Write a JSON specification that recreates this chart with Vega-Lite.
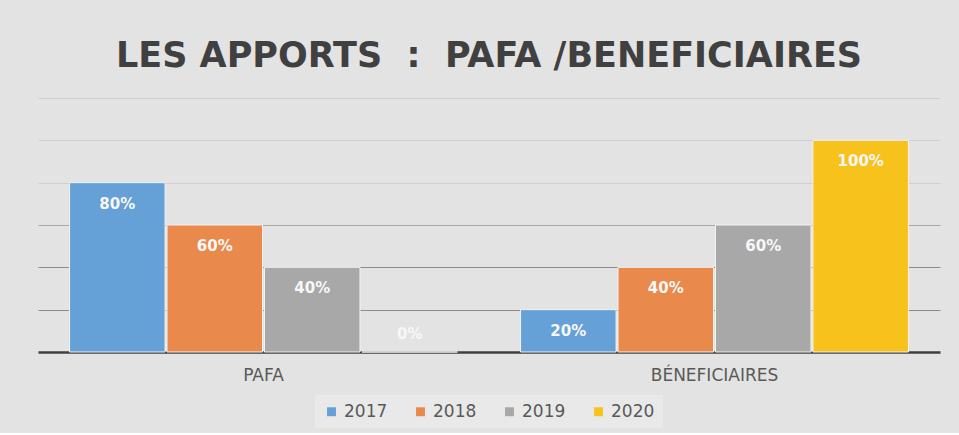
{
  "$schema": "https://vega.github.io/schema/vega-lite/v6.json",
  "width": 902,
  "height": 254,
  "padding": {"left": 38, "right": 19, "top": 39, "bottom": 5},
  "background": "#e3e3e3",
  "view": {"stroke": null},
  "config": {"legend": {"layout": {"bottom": {"anchor": "middle"}}}},
  "title": {
    "text": "LES APPORTS\u00a0 :\u00a0 PAFA /BENEFICIAIRES",
    "font": "DejaVu Sans",
    "fontSize": 35,
    "fontWeight": "bold",
    "color": "#404040",
    "anchor": "middle",
    "offset": 24
  },
  "data": {
    "values": [
      {"categorie": "PAFA", "annee": "2017", "valeur": 80},
      {"categorie": "PAFA", "annee": "2018", "valeur": 60},
      {"categorie": "PAFA", "annee": "2019", "valeur": 40},
      {"categorie": "PAFA", "annee": "2020", "valeur": 0},
      {"categorie": "BÉNEFICIAIRES", "annee": "2017", "valeur": 20},
      {"categorie": "BÉNEFICIAIRES", "annee": "2018", "valeur": 40},
      {"categorie": "BÉNEFICIAIRES", "annee": "2019", "valeur": 60},
      {"categorie": "BÉNEFICIAIRES", "annee": "2020", "valeur": 100}
    ]
  },
  "encoding": {
    "x": {
      "field": "categorie",
      "type": "nominal",
      "sort": ["PAFA", "BÉNEFICIAIRES"],
      "scale": {"paddingInner": 0.14, "paddingOuter": 0.07},
      "axis": {
        "title": null,
        "labelAngle": 0,
        "labelFont": "DejaVu Sans",
        "labelFontSize": 17,
        "labelColor": "#595959",
        "labelPadding": 15,
        "ticks": false,
        "domainColor": "#404040",
        "domainWidth": 2.5,
        "grid": false
      }
    },
    "xOffset": {"field": "annee", "type": "nominal", "scale": {"paddingInner": 0.02}},
    "y": {
      "field": "valeur",
      "type": "quantitative",
      "scale": {"domain": [0, 120], "nice": false},
      "axis": {
        "title": null,
        "labels": false,
        "ticks": false,
        "domain": false,
        "values": [20, 40, 60, 80, 100, 120],
        "grid": true,
        "gridWidth": 1.2,
        "gridColor": {
          "condition": [
            {"test": "datum.value <= 40", "value": "#8c8c8c"},
            {"test": "datum.value <= 60", "value": "#a8a8a8"}
          ],
          "value": "#cfcfcf"
        }
      }
    }
  },
  "layer": [
    {
      "mark": {"type": "bar", "stroke": "#f2f2f2", "strokeWidth": 1},
      "encoding": {
        "color": {
          "field": "annee",
          "type": "nominal",
          "scale": {
            "domain": ["2017", "2018", "2019", "2020"],
            "range": ["#65a0d6", "#e98a4c", "#a8a8a8", "#f8c21d"]
          },
          "legend": {
            "title": null,
            "orient": "bottom",
            "direction": "horizontal",
            "symbolType": "square",
            "symbolSize": 80,
            "symbolStrokeWidth": 0,
            "labelFont": "DejaVu Sans",
            "labelFontSize": 17,
            "labelColor": "#595959",
            "columnPadding": 24,
            "labelOffset": 4,
            "fillColor": "#e9e9e9",
            "padding": 8,
            "offset": 12
          }
        }
      }
    },
    {
      "transform": [{"filter": "datum.valeur > 0"}],
      "mark": {
        "type": "text",
        "dy": 21,
        "baseline": "middle",
        "font": "DejaVu Sans",
        "fontWeight": "bold",
        "fontSize": 15,
        "color": "#f7f7f7"
      },
      "encoding": {"text": {"value": {"expr": "datum.valeur + '%'"}}}
    },
    {
      "transform": [{"filter": "datum.valeur == 0"}],
      "mark": {
        "type": "text",
        "dy": -18,
        "baseline": "middle",
        "font": "DejaVu Sans",
        "fontWeight": "bold",
        "fontSize": 15,
        "color": "#f7f7f7"
      },
      "encoding": {"text": {"value": {"expr": "datum.valeur + '%'"}}}
    }
  ]
}
